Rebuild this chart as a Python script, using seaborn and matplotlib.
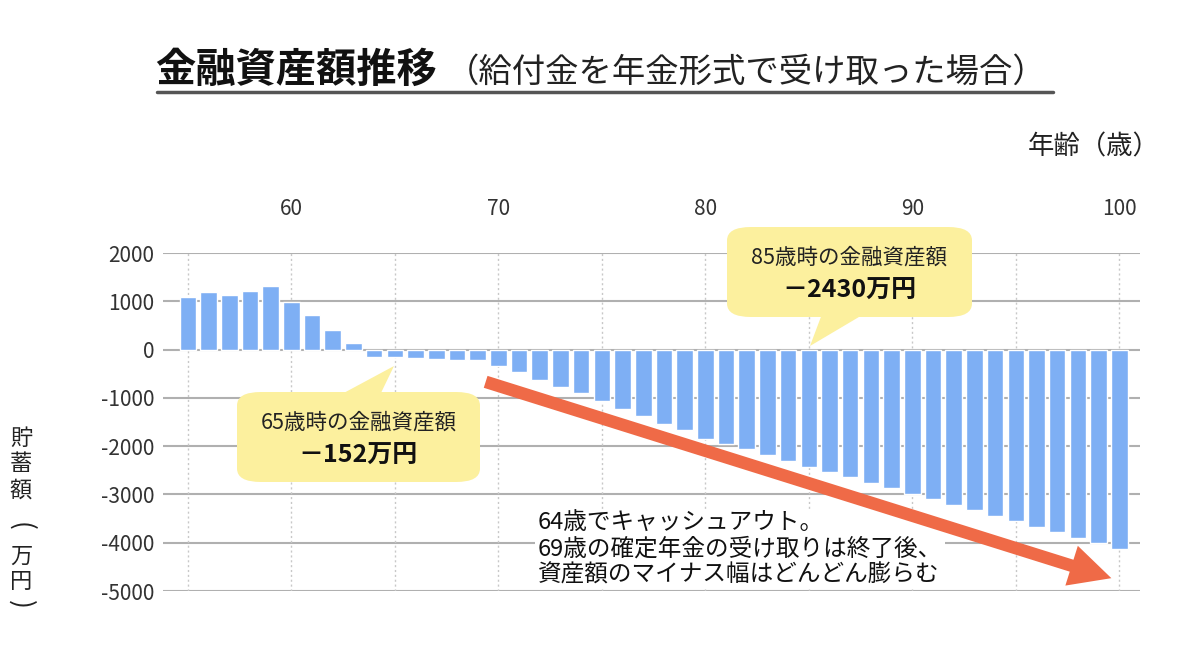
import numpy as np
import pandas as pd
import matplotlib
matplotlib.use("Agg")
import matplotlib.pyplot as plt
from matplotlib.patches import FancyBboxPatch, Polygon, FancyArrowPatch
import seaborn as sns

# 年齢と金融資産額（万円）
ages = list(range(55, 101))
assets = [1090, 1190, 1120, 1210, 1320, 990, 720, 410, 130, -155,
          -152, -175, -190, -210, -220, -340, -470, -625, -775, -900,
          -1060, -1225, -1370, -1535, -1675, -1850, -1950, -2060, -2180, -2300,
          -2430, -2540, -2630, -2755, -2865, -2990, -3100, -3215, -3320, -3440,
          -3560, -3670, -3785, -3910, -4015, -4135]
yticks = [2000, 1000, 0, -1000, -2000, -3000, -4000, -5000]
xticks = list(range(55, 101, 5))
xlabels = [str(a) if a % 10 == 0 else "" for a in xticks]

title = "金融資産額推移"
subtitle = "（給付金を年金形式で受け取った場合）"
xlabel = "年齢（歳）"
ylabel = ["貯", "蓄", "額", "(", "万", "円", ")"]
note1 = ("65歳時の金融資産額", "－152万円")
note2 = ("85歳時の金融資産額", "－2430万円")
comment = "64歳でキャッシュアウト。\n69歳の確定年金の受け取りは終了後、\n資産額のマイナス幅はどんどん膨らむ"

df = pd.DataFrame({"age": ages, "asset": assets})

sns.set_style("white")
plt.rcParams["font.family"] = ["Noto Sans CJK JP", "DejaVu Sans"]

W, H = 1200, 672
fig = plt.figure(figsize=(12, 6.72), dpi=100)
ax = fig.add_axes([163 / W, 1 - 591 / H, (1140 - 163) / W, (591 - 253) / H])


def px(x, y):
    return (x / W, 1 - y / H)


sns.barplot(data=df, x="age", y="asset", native_scale=True, color="#7eaff4",
            width=0.8, saturation=1, ax=ax, zorder=2)

ax.set_xlim(53.8, 101.0)
ax.set_ylim(-5000, 2000)
ax.set_yticks(yticks)
ax.set_yticklabels([str(v) for v in yticks])
ax.set_xticks(xticks)
ax.set_xticklabels(xlabels)
ax.xaxis.tick_top()
ax.tick_params(axis="x", length=0, pad=24, labelsize=15, labelcolor="#333333")
ax.tick_params(axis="y", length=0, pad=6, labelsize=15, labelcolor="#333333")
ax.set_xlabel("")
ax.set_ylabel("")
for s in ax.spines.values():
    s.set_visible(False)
ax.grid(False)
for v in yticks:
    ax.axhline(v, color="#b0b0b0", lw=1.5, zorder=1)
for a in xticks:
    ax.axvline(a, color="#c8c8c8", lw=1, ls=(0, (1.5, 2)), zorder=1)

# タイトル
fig.text(*px(155, 70), title, fontsize=29, fontweight="bold", va="center", ha="left", color="#111111")
fig.text(*px(446, 72), subtitle, fontsize=24, va="center", ha="left", color="#222222")
fig.add_artist(plt.Line2D([157 / W, 1053 / W], [1 - 92 / H, 1 - 92 / H], color="#555555", lw=2.5))

fig.text(*px(1160, 147), xlabel, fontsize=19, ha="right", va="center", color="#222222")

# 縦書きの軸ラベル
ylab_y = [438, 463, 490, 526, 556, 582, 604]
for ch, yy in zip(ylabel, ylab_y):
    rot = -90 if ch in "()" else 0
    fig.text(*px(21, yy), ch, fontsize=16 if rot == 0 else 19, ha="center", va="center",
             rotation=rot, rotation_mode="anchor", color="#222222")

# 吹き出し
def callout(x0, y0, x1, y1, pointer, lines):
    box = FancyBboxPatch(px(x0, y1), (x1 - x0) / W, (y1 - y0) / H,
                         boxstyle="round,pad=0,rounding_size=0.02",
                         transform=fig.transFigure, fc="#fcf09e", ec="none", zorder=5)
    fig.add_artist(box)
    fig.add_artist(Polygon([px(*p) for p in pointer], closed=True, transform=fig.transFigure,
                           fc="#fcf09e", ec="none", zorder=5))
    cx = (x0 + x1) / 2
    fig.text(*px(cx, y0 + 0.34 * (y1 - y0)), lines[0], fontsize=15.5, ha="center", va="center",
             color="#222222", zorder=6)
    fig.text(*px(cx, y0 + 0.71 * (y1 - y0)), lines[1], fontsize=18, fontweight="bold",
             ha="center", va="center", color="#111111", zorder=6)


callout(237, 392, 480, 482, [(340, 395), (380, 395), (394, 366)], note1)
callout(727, 227, 972, 317, [(822, 314), (864, 314), (810, 346)], note2)

# 赤い矢印
arrow = FancyArrowPatch(px(483, 381), px(1114, 579), transform=fig.transFigure,
                        arrowstyle="simple,head_width=30,head_length=30,tail_width=9",
                        mutation_scale=1, fc="#ef6a47", ec="none", zorder=4)
fig.add_artist(arrow)

fig.text(*px(538, 549), comment, fontsize=17, ha="left", va="center", linespacing=1.15,
         color="#111111", zorder=3,
         bbox=dict(fc="white", ec="none", pad=2))

fig.savefig("out.png", dpi=100)
